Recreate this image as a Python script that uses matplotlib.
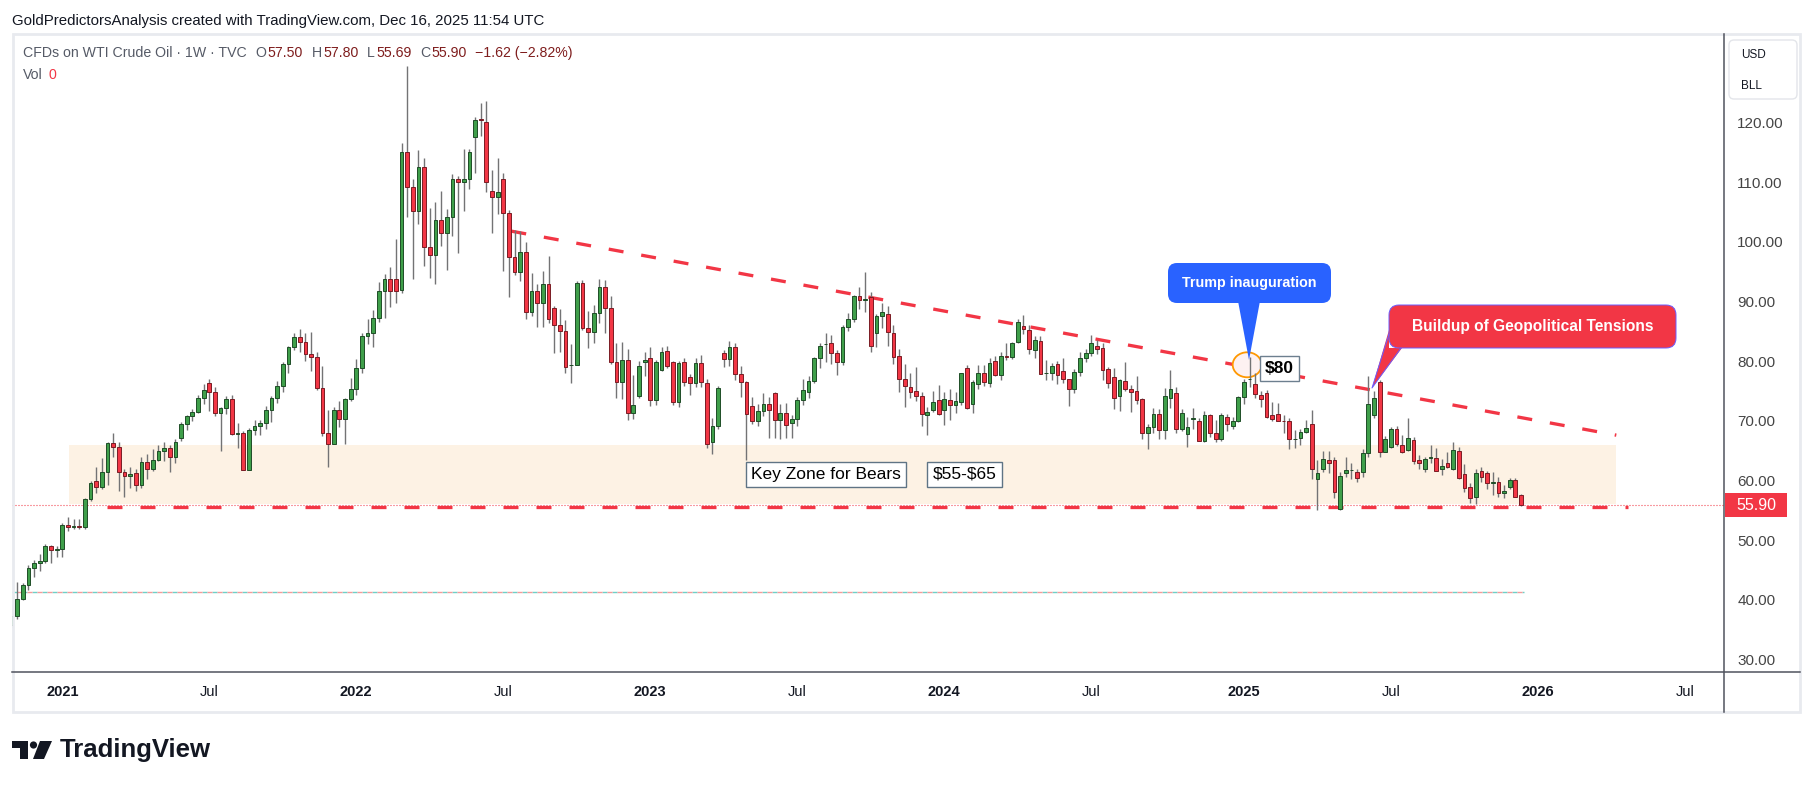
import matplotlib
matplotlib.use('Agg')
import matplotlib.pyplot as plt
import matplotlib.dates as mdates
from matplotlib.patches import Rectangle, FancyBboxPatch, Polygon, Ellipse, Circle
import numpy as np
import pandas as pd

plt.rcParams['font.family'] = ['Liberation Sans', 'DejaVu Sans']
plt.rcParams['lines.scale_dashes'] = False

# ---------------- data (weekly WTI CFD) ----------------
last_week = '2025-12-15'

opens = [
    # 2020
    35.8, 37.3, 40.1, 42.5, 45.4, 46.1, 46.5, 49.0, 48.3,
    # 2021
    48.5, 52.5, 52.2, 52.3, 52.2, 56.85, 60.0, 58.9, 61.5, 66.3,
    65.6, 61.4, 60.8, 61.2, 59.3, 63.1, 62.0, 63.4, 64.9, 65.4,
    63.9, 67.1, 69.5, 70.8, 71.5, 73.9, 76.3, 74.8, 71.4, 72.1,
    73.65, 67.85, 67.9, 61.8, 68.5, 69.2, 69.7, 71.9, 73.9, 75.8,
    79.45, 82.4, 84.0, 83.2, 81.15, 80.65, 75.45, 68.0, 66.2, 71.8,
    70.25, 73.6,
    # 2022
    75.3, 78.8, 84.3, 84.7, 87.2, 91.8, 93.7, 93.7, 91.9, 115.0,
    109.15, 105.2, 112.6, 99.2, 97.75, 103.6, 101.55, 104.1, 110.5, 110.1,
    110.5, 117.65, 120.6, 120.15, 108.6, 107.5, 110.5, 104.8, 97.5, 94.9,
    98.3, 88.3, 91.8, 89.7, 92.9, 88.9, 86.0, 85.1, 79.35, 79.35,
    93.05, 85.5, 84.95, 88.1, 92.4, 88.86, 79.9, 76.45, 80.2, 71.25,
    74.2, 79.8,
    # 2023
    80.5, 73.5, 78.6, 81.7, 79.8, 73.1, 79.8, 77.3, 76.3, 79.65,
    76.3, 66.5, 69.1, 81.3, 80.3, 82.3, 77.8, 76.45, 72.55, 69.95,
    71.7, 72.8, 74.6, 70.1, 71.25, 69.6, 70.25, 73.5, 74.8, 76.7,
    80.5, 82.8, 83.0, 81.3, 79.9, 85.8, 87.1, 91.0, 90.3, 90.7,
    84.8, 87.5, 87.85, 84.8, 80.9, 76.96, 75.6, 75.05, 74.2, 70.9,
    71.9, 73.5,
    # 2024
    71.9, 73.5, 72.65, 73.1, 78.8, 72.75, 76.2, 77.95, 76.3, 80.0,
    77.7, 80.85, 80.65, 83.15, 85.9, 85.25, 81.9, 83.4, 77.95, 77.95,
    79.5, 78.4, 76.95, 75.3, 78.25, 80.5, 81.3, 82.6, 82.15, 78.7,
    77.3, 74.2, 76.7, 75.3, 75.05, 73.6, 67.9, 69.0, 71.1, 68.5,
    73.8, 74.6, 68.7, 67.8, 70.3, 70.0, 66.7, 71.0, 67.9, 66.95,
    70.6, 69.2, 70.0,
    # 2025
    74.05, 77.0, 76.1, 74.3, 74.6, 70.9, 71.1, 69.95, 69.9, 66.9,
    67.07, 68.05, 69.5, 60.2, 61.9, 63.4, 63.4, 55.3, 61.2, 61.7,
    61.37, 61.37, 64.55, 71.0, 76.45, 64.8, 65.7, 68.6, 65.95, 65.1,
    66.8, 63.4, 62.0, 63.8, 63.7, 61.9, 62.9, 62.0, 64.95, 61.1,
    58.85, 57.2, 61.65, 61.2, 59.6, 59.7, 57.85, 58.85, 60.1, 57.5,
]

highs = [
    # 2020
    39.2, 43.0, 42.9, 45.9, 46.7, 47.7, 49.3, 49.2, 49.0,
    # 2021
    52.8, 53.9, 53.6, 53.6, 57.0, 60.0, 62.3, 63.8, 66.4, 68.0,
    66.4, 62.0, 62.3, 62.0, 64.0, 64.4, 65.3, 66.0, 66.4, 66.0,
    66.9, 69.8, 71.0, 72.0, 74.3, 76.2, 77.0, 75.6, 72.4, 74.2,
    74.3, 69.6, 68.3, 68.8, 70.1, 70.1, 72.5, 74.1, 76.7, 79.8,
    82.5, 84.7, 85.4, 84.7, 84.85, 81.6, 79.2, 71.8, 72.4, 73.3,
    73.9, 77.2,
    # 2022
    80.3, 84.8, 87.0, 88.5, 93.2, 94.6, 95.8, 100.5, 116.6, 129.5,
    110.5, 115.4, 114.0, 105.6, 106.7, 108.6, 105.5, 111.4, 111.0, 115.5,
    115.5, 121.0, 123.3, 123.7, 112.0, 114.0, 111.5, 105.3, 102.0, 101.9,
    100.0, 94.8, 93.0, 95.1, 97.6, 89.25, 88.8, 86.9, 82.9, 93.5,
    93.6, 88.4, 89.4, 93.7, 93.6, 91.0, 83.0, 83.2, 82.0, 77.7,
    80.0, 81.5,
    # 2023
    82.4, 80.2, 82.4, 82.6, 80.0, 80.1, 80.6, 77.9, 80.5, 81.0,
    77.0, 70.4, 75.8, 81.9, 83.4, 83.0, 79.2, 76.6, 74.0, 72.8,
    74.7, 74.0, 74.9, 72.9, 73.0, 71.0, 74.0, 77.0, 77.5, 80.7,
    83.1, 84.7, 84.4, 81.9, 86.0, 88.1, 91.1, 92.5, 94.9, 91.65,
    87.85, 89.8, 89.2, 86.0, 82.0, 79.6, 78.0, 79.0, 74.9, 72.4,
    75.0, 76.0,
    # 2024
    74.9, 75.3, 74.9, 78.1, 79.3, 76.9, 79.3, 79.3, 80.6, 80.8,
    81.6, 83.1, 83.3, 87.1, 87.75, 86.0, 84.3, 84.3, 80.2, 79.7,
    80.1, 80.6, 77.1, 78.7, 81.6, 82.0, 84.4, 83.5, 83.0, 79.1,
    78.9, 77.1, 79.9, 76.0, 77.5, 73.9, 69.5, 72.2, 72.0, 75.5,
    78.5, 75.7, 72.0, 70.6, 72.2, 70.5, 71.6, 71.2, 70.1, 71.4,
    71.1, 70.6, 74.2,
    # 2025
    77.0, 80.65, 78.0, 75.0, 75.2, 73.2, 73.0, 71.0, 70.5, 68.5,
    68.7, 70.2, 71.9, 63.4, 64.9, 64.9, 63.9, 61.5, 63.9, 63.0,
    62.0, 65.2, 77.6, 75.0, 76.85, 67.5, 69.0, 69.2, 67.6, 70.5,
    67.3, 64.2, 64.0, 65.9, 65.5, 63.6, 64.8, 66.4, 65.6, 62.8,
    59.6, 62.0, 62.2, 61.6, 61.5, 60.6, 59.3, 60.4, 60.4, 57.8,
]

lows = [
    # 2020
    35.4, 36.8, 39.9, 41.6, 43.9, 44.9, 46.2, 46.2, 47.2,
    # 2021
    47.2, 51.5, 51.9, 51.9, 51.8, 56.5, 57.9, 58.6, 59.2, 64.0,
    58.3, 57.3, 58.7, 58.2, 58.8, 60.3, 61.6, 63.2, 63.2, 61.5,
    62.9, 66.7, 68.5, 69.9, 71.3, 72.8, 71.6, 70.8, 65.0, 71.2,
    67.6, 65.4, 61.7, 61.7, 67.6, 67.7, 68.6, 69.8, 73.0, 74.9,
    78.1, 81.9, 81.5, 80.0, 78.3, 75.2, 67.4, 62.3, 66.1, 69.0,
    66.1, 73.3,
    # 2022
    74.3, 78.0, 82.8, 82.3, 86.6, 87.2, 89.1, 89.8, 91.5, 104.2,
    93.7, 103.0, 96.0, 93.9, 93.0, 99.3, 95.3, 101.0, 98.2, 105.1,
    108.8, 111.6, 117.8, 108.4, 101.5, 104.6, 95.2, 90.7, 94.45, 93.5,
    87.0, 87.6, 85.8, 85.8, 86.35, 81.3, 81.5, 78.1, 76.3, 79.3,
    85.3, 82.2, 83.0, 86.4, 84.7, 79.5, 73.8, 73.6, 70.1, 70.25,
    73.9, 77.6,
    # 2023
    72.55, 72.7, 78.3, 78.9, 72.6, 72.3, 75.8, 74.3, 75.6, 75.7,
    65.4, 64.4, 68.6, 79.1, 79.2, 76.9, 74.0, 63.5, 69.4, 69.2,
    70.8, 67.2, 67.1, 67.0, 67.1, 67.1, 69.1, 72.7, 73.9, 76.3,
    78.8, 79.9, 79.6, 77.7, 79.3, 85.0, 86.5, 88.7, 88.3, 81.6,
    82.3, 85.6, 82.6, 79.5, 74.9, 72.3, 73.8, 73.4, 69.1, 67.7,
    71.5, 70.9,
    # 2024
    69.3, 70.1, 71.4, 72.6, 72.0, 71.4, 75.3, 75.9, 75.6, 77.5,
    76.9, 80.2, 80.4, 83.0, 84.5, 81.2, 80.6, 77.8, 76.85, 76.9,
    76.1, 76.3, 72.5, 74.6, 77.6, 79.9, 80.8, 81.2, 76.9, 75.5,
    72.0, 71.7, 75.0, 71.5, 72.9, 67.0, 65.2, 67.9, 66.9, 66.9,
    72.2, 68.0, 68.3, 65.7, 68.7, 66.6, 66.5, 67.3, 66.5, 66.7,
    68.3, 68.7, 69.8,
    # 2025
    72.9, 75.6, 73.8, 72.3, 70.4, 70.0, 70.0, 68.0, 65.2, 65.5,
    66.0, 67.9, 60.2, 55.0, 61.4, 61.3, 57.0, 55.1, 60.6, 60.3,
    59.7, 60.6, 64.0, 70.5, 64.0, 64.7, 65.4, 65.8, 64.6, 64.9,
    62.8, 61.9, 61.5, 62.9, 61.6, 61.0, 62.1, 61.8, 60.3, 58.1,
    56.2, 56.1, 59.8, 58.6, 57.6, 57.3, 57.0, 58.5, 57.2, 55.69,
]

closes = [
    # 2020
    37.3, 40.1, 42.5, 45.4, 46.1, 46.5, 49.0, 48.3, 48.5,
    # 2021
    52.5, 52.2, 52.3, 52.2, 56.85, 59.5, 58.9, 61.5, 66.3, 65.6,
    61.4, 60.8, 61.1, 59.3, 63.1, 62.0, 63.4, 64.9, 65.4, 63.9,
    66.5, 69.5, 70.8, 71.5, 73.9, 75.1, 74.8, 71.4, 72.1, 73.65,
    67.85, 67.95, 61.8, 68.5, 69.2, 69.7, 71.9, 73.9, 75.8, 79.45,
    82.4, 84.0, 83.2, 81.15, 80.65, 75.45, 68.0, 66.2, 71.8, 70.25,
    73.6, 75.3,
    # 2022
    78.8, 84.3, 84.7, 87.2, 91.8, 93.7, 91.8, 91.8, 115.0, 109.15,
    105.2, 112.6, 99.2, 97.75, 103.6, 101.55, 104.1, 110.5, 110.1, 110.5,
    115.0, 120.4, 120.4, 110.0, 107.5, 108.4, 104.8, 97.5, 94.9, 98.3,
    88.3, 91.8, 89.7, 92.9, 87.0, 86.0, 85.1, 79.1, 79.35, 93.05,
    85.5, 84.95, 88.1, 92.4, 88.86, 79.9, 76.45, 80.2, 71.25, 72.65,
    79.25, 80.2,
    # 2023
    73.5, 79.8, 81.5, 79.25, 73.1, 79.65, 76.45, 76.3, 79.65, 76.45,
    66.1, 69.1, 75.45, 80.3, 82.4, 77.8, 76.45, 71.1, 69.95, 71.7,
    72.8, 71.8, 70.1, 71.4, 69.3, 70.25, 73.5, 75.2, 76.6, 80.5,
    82.55, 82.8, 81.3, 79.8, 85.8, 87.1, 91.0, 90.3, 90.4, 82.6,
    87.5, 88.2, 84.95, 80.65, 77.1, 75.9, 74.9, 74.2, 71.1, 71.5,
    73.2, 71.1,
    # 2024
    73.65, 72.65, 73.3, 77.95, 72.1, 76.45, 77.95, 76.45, 79.65, 77.7,
    80.85, 80.75, 83.0, 86.5, 85.35, 82.0, 83.55, 77.85, 77.95, 79.25,
    77.7, 76.95, 75.3, 78.25, 80.5, 81.3, 83.1, 82.0, 78.5, 76.3,
    73.9, 76.85, 75.3, 74.8, 73.5, 67.9, 69.0, 71.1, 68.5, 74.2,
    75.3, 68.6, 71.4, 69.0, 70.4, 66.7, 71.0, 67.9, 66.95, 71.0,
    69.5, 70.0, 74.05,
    # 2025
    76.45, 77.1, 74.45, 73.6, 70.7, 70.25, 70.0, 69.9, 66.9, 66.95,
    68.05, 68.75, 62.0, 61.2, 63.6, 62.9, 58.1, 60.8, 61.75, 61.75,
    60.5, 64.55, 72.8, 73.8, 64.8, 66.9, 68.6, 66.2, 64.8, 67.1,
    63.2, 62.9, 63.55, 63.9, 61.65, 62.4, 62.2, 65.1, 60.5, 58.7,
    57.0, 61.2, 60.65, 59.6, 59.7, 57.85, 58.3, 60.1, 57.3, 55.9,
]

tick_dates = ['2021-01-04', '2021-07-05', '2022-01-03', '2022-07-04', '2023-01-02', '2023-07-03',
              '2024-01-01', '2024-07-01', '2025-01-06', '2025-07-07', '2026-01-05', '2026-07-06']
tick_labels = ['2021', 'Jul', '2022', 'Jul', '2023', 'Jul', '2024', 'Jul', '2025', 'Jul', '2026', 'Jul']
price_ticks = [30, 40, 50, 60, 70, 80, 90, 100, 110, 120]

last_price = 55.90
zone_low, zone_high = 56.0, 65.9
zone_dates = ('2021-01-12', '2026-04-12')
support_level = 55.5
support_dates = ('2021-02-28', '2026-04-26')
trend_dates = ('2022-07-14', '2026-04-12')
trend_prices = (101.8, 67.6)
vol_level = 41.3
vol_end = '2025-12-19'
marker_date, marker_price = '2025-01-10', 79.4

# ---------------- figure ----------------
W, H = 1814, 787
PT = 0.72  # points per pixel at 100 dpi
RED = '#f23645'
INK = '#131722'

assert len(opens) == len(highs) == len(lows) == len(closes)
dates = pd.date_range(end=last_week, periods=len(closes), freq='7D')
x = mdates.date2num(dates.to_pydatetime())
o, h, l, c = map(np.array, (opens, highs, lows, closes))

def dn(d):
    return mdates.date2num(pd.Timestamp(d).to_pydatetime())

fig = plt.figure(figsize=(W / 100, H / 100), dpi=100)
fig.patch.set_facecolor('white')

ax = fig.add_axes([12 / W, 1 - 672 / H, (1724 - 12) / W, (672 - 34) / H])
ax.set_zorder(1)
ref = dn('2021-01-04')
ppd = (1521 - 62.3) / 1806.0
ax.set_xlim(ref - (62.3 - 12) / ppd, ref + (1724 - 62.3) / ppd)
ax.set_ylim(27.9, 134.85)

# key zone + levels
ax.add_patch(Rectangle((dn(zone_dates[0]), zone_low), dn(zone_dates[1]) - dn(zone_dates[0]),
                       zone_high - zone_low, facecolor='#fdf2e4', lw=0, zorder=0.5))
ax.axhline(last_price, color=RED, lw=0.8, dashes=(1 * PT, 2 * PT), zorder=1)
xl = ax.get_xlim()
ax.plot([xl[0], dn(vol_end)], [vol_level, vol_level], color='#6fcfc6', lw=1.0,
        linestyle=(0, (5 * PT, 5 * PT)), zorder=1)
ax.plot([xl[0], dn(vol_end)], [vol_level, vol_level], color='#f59a9a', lw=1.0,
        linestyle=(5 * PT, (5 * PT, 5 * PT)), zorder=1)
ax.plot([dn(support_dates[0]), dn(support_dates[1])], [support_level, support_level], color=RED,
        lw=3.3 * PT, dashes=(15 * PT, 18 * PT), solid_capstyle='butt', zorder=2)
ax.plot([dn(trend_dates[0]), dn(trend_dates[1])], trend_prices, color=RED,
        lw=3.3 * PT, dashes=(15 * PT, 18 * PT), zorder=2)

# marker circle at the inauguration week
ax.add_patch(Ellipse((dn(marker_date), marker_price), 29 / ppd, 25 / 5.965,
                     facecolor='#fdf1f1', edgecolor='#ff9800', lw=1.3, zorder=2.5))

# candles
up = c >= o
ax.vlines(x, l, h, color='#737375', lw=1.0, zorder=3)
ax.bar(x[up], (c - o)[up], bottom=o[up], width=4.6, color='#3f9f4a',
       edgecolor='#1f4d27', lw=0.7, zorder=4)
ax.bar(x[~up], (o - c)[~up], bottom=c[~up], width=4.6, color=RED,
       edgecolor='#7a1c24', lw=0.7, zorder=4)

# axes styling
for s in ax.spines.values():
    s.set_visible(False)
ax.set_xticks([dn(d) for d in tick_dates])
ax.set_xticklabels(tick_labels)
for lab in ax.get_xticklabels():
    if lab.get_text() != 'Jul':
        lab.set_fontweight('bold')
ax.tick_params(axis='x', length=0, pad=9, labelsize=10.5, labelcolor=INK)
ax.yaxis.tick_right()
ax.set_yticks(price_ticks)
ax.set_yticklabels([f'{p:.2f}' for p in price_ticks])
ax.tick_params(axis='y', length=0, pad=9.5, labelsize=11, labelcolor='#454545')

# ---------------- overlay in pixel coordinates ----------------
ov = fig.add_axes([0, 0, 1, 1])
ov.set_zorder(10)
ov.set_xlim(0, W)
ov.set_ylim(H, 0)
ov.axis('off')
ov.patch.set_alpha(0)

ov.add_patch(Rectangle((12.5, 34), 1787, 678, fill=False, ec='#e8eaef', lw=2))
ov.plot([12, 1800], [672, 672], color='#50535e', lw=1.1)
ov.plot([1724, 1724], [34, 712], color='#50535e', lw=1.1)

# header
ov.text(12, 20.5, 'GoldPredictorsAnalysis created with TradingView.com, Dec 16, 2025 11:54 UTC',
        fontsize=10.8, color=INK, va='center', ha='left')

renderer = fig.canvas.get_renderer()

def text_runs(x0, y0, runs, size):
    for s, col, gap in runs:
        t = ov.text(x0, y0, s, color=col, fontsize=size, va='center', ha='left')
        x0 += t.get_window_extent(renderer=renderer).width + gap

GREY = '#555a66'
VAL = '#7f1d1d'
text_runs(23, 53, [('CFDs on WTI Crude Oil · 1W · TVC', GREY, 9),
                   ('O', GREY, 1), ('57.50', VAL, 9),
                   ('H', GREY, 1), ('57.80', VAL, 9),
                   ('L', GREY, 1), ('55.69', VAL, 9),
                   ('C', GREY, 1), ('55.90', VAL, 8),
                   ('−1.62 (−2.82%)', VAL, 0)], 10.2)
text_runs(23, 75, [('Vol', GREY, 6), ('0', RED, 0)], 10.2)

# price-axis extras
ov.add_patch(FancyBboxPatch((1729, 40), 68, 59, boxstyle='round,pad=0,rounding_size=5',
                            fc='white', ec='#e3e5ea', lw=1))
ov.text(1741, 55, 'USD', fontsize=8.5, color=INK, va='center', ha='left')
ov.text(1741, 86, 'BLL', fontsize=8.5, color=INK, va='center', ha='left')
ov.add_patch(Rectangle((1725, 493), 62, 24, fc=RED, ec='none'))
ov.text(1756, 505, f'{last_price:.2f}', fontsize=11.5, color='white', va='center', ha='center')

# Trump callout
ov.add_patch(FancyBboxPatch((1168, 263), 163, 40, boxstyle='round,pad=0,rounding_size=9',
                            fc='#2962ff', ec='none'))
ov.add_patch(Polygon([(1238, 301), (1260, 301), (1249, 360)], closed=True, fc='#2962ff', ec='none'))
ov.text(1249.5, 283, 'Trump inauguration', fontsize=10.3, fontweight='bold', color='white',
        va='center', ha='center')

ov.add_patch(Rectangle((1260, 356), 39, 25, fc='white', ec='#6d7f8f', lw=1))
ov.text(1279.5, 368.5, r'\$80', fontsize=12.5, fontweight='bold', color='black',
        va='center', ha='center')

# Geopolitical callout
ov.add_patch(Polygon([(1389, 330), (1389, 348), (1402, 348), (1372, 388)], closed=True,
                     fc=RED, ec='none'))
ov.plot([1389, 1372, 1401], [334, 388, 348], color='#6a5cff', lw=0.7)
ov.add_patch(FancyBboxPatch((1389, 305), 287, 43, boxstyle='round,pad=0,rounding_size=10',
                            fc=RED, ec='#6a5cff', lw=0.7))
ov.text(1532.5, 327, 'Buildup of Geopolitical Tensions', fontsize=11.2, fontweight='bold',
        color='white', va='center', ha='center')

# zone labels
ov.add_patch(Rectangle((746, 462), 160, 25, fc='white', ec='#5f7485', lw=1))
ov.text(826, 474.5, 'Key Zone for Bears', fontsize=12.5, color='black', va='center', ha='center')
ov.add_patch(Rectangle((927, 462), 75, 25, fc='white', ec='#5f7485', lw=1))
ov.text(964.5, 474.5, r'\$55-\$65', fontsize=12.5, color='black', va='center', ha='center')

# TradingView logo
ov.add_patch(Polygon([(12, 741), (28, 741), (28, 759), (20, 759), (20, 748), (12, 748)],
                     closed=True, fc=INK, ec='none'))
ov.add_patch(Circle((33.5, 745), 3.6, fc=INK, ec='none'))
ov.add_patch(Polygon([(40, 741), (52, 741), (44, 759), (33, 759)], closed=True, fc=INK, ec='none'))
ov.text(60, 750, 'TradingView', fontsize=18.5, fontweight='bold', color=INK, va='center', ha='left')

fig.savefig('out.png', dpi=100)
